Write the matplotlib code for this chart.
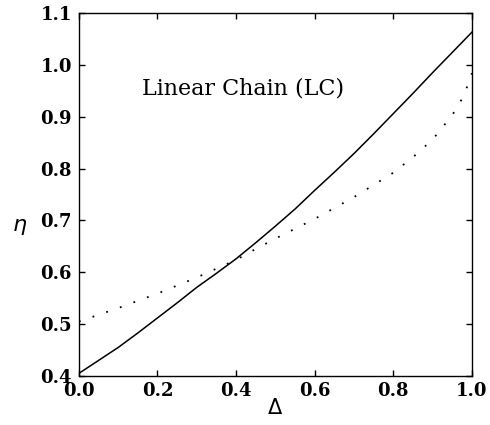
import matplotlib
matplotlib.use('Agg')
import matplotlib.pyplot as plt

# values
delta_lc = [0.0, 0.05, 0.1, 0.15, 0.2, 0.25, 0.3, 0.35, 0.4, 0.45, 0.5,
            0.55, 0.6, 0.65, 0.7, 0.75, 0.8, 0.85, 0.9, 0.95, 1.0]
eta_solid = [0.405, 0.430, 0.455, 0.483, 0.512, 0.541, 0.571, 0.598, 0.626, 0.657, 0.689,
             0.722, 0.758, 0.793, 0.829, 0.867, 0.906, 0.945, 0.985, 1.024, 1.063]

delta_dot = [0.0, 0.1, 0.2, 0.3, 0.4, 0.45, 0.5, 0.6, 0.7, 0.8, 0.85, 0.9, 0.95, 0.98, 1.0]
eta_dot = [0.505, 0.531, 0.559, 0.590, 0.624, 0.645, 0.665, 0.703, 0.745, 0.792, 0.822,
           0.856, 0.903, 0.941, 0.984]

xticks = [0.0, 0.2, 0.4, 0.6, 0.8, 1.0]
yticks = [0.4, 0.5, 0.6, 0.7, 0.8, 0.9, 1.0, 1.1]

fig = plt.figure(figsize=(4.9, 4.25), dpi=100)
ax = fig.add_axes([0.161, 0.1153, 0.802, 0.854])

ax.plot(delta_lc, eta_solid, color='black', lw=1.1)
ax.plot(delta_dot, eta_dot, color='black', lw=1.3, linestyle=(0, (1, 7)))

ax.set_xlim(0, 1)
ax.set_ylim(0.4, 1.1)
ax.set_xticks(xticks)
ax.set_yticks(yticks)
ax.set_xticklabels(['%.1f' % v for v in xticks])
ax.set_yticklabels(['%.1f' % v for v in yticks])

ax.tick_params(direction='in', top=True, right=True, length=4, width=1,
               labelsize=13)
ax.tick_params(axis='x', pad=4)
ax.tick_params(axis='y', pad=5)
for lab in ax.get_xticklabels() + ax.get_yticklabels():
    lab.set_family('DejaVu Serif')
    lab.set_fontweight('bold')
for sp in ax.spines.values():
    sp.set_linewidth(1.0)

ax.text(0.418, 0.793, 'Linear Chain (LC)', transform=ax.transAxes,
        ha='center', va='center', fontsize=16, family='DejaVu Serif')

fig.text(20 / 490, 1 - 227 / 425, r'$\eta$', fontsize=16, ha='center', va='center')
fig.text(275 / 490, 1 - 408 / 425, r'$\Delta$', fontsize=15, ha='center', va='center')

fig.savefig('out.png', dpi=100)
